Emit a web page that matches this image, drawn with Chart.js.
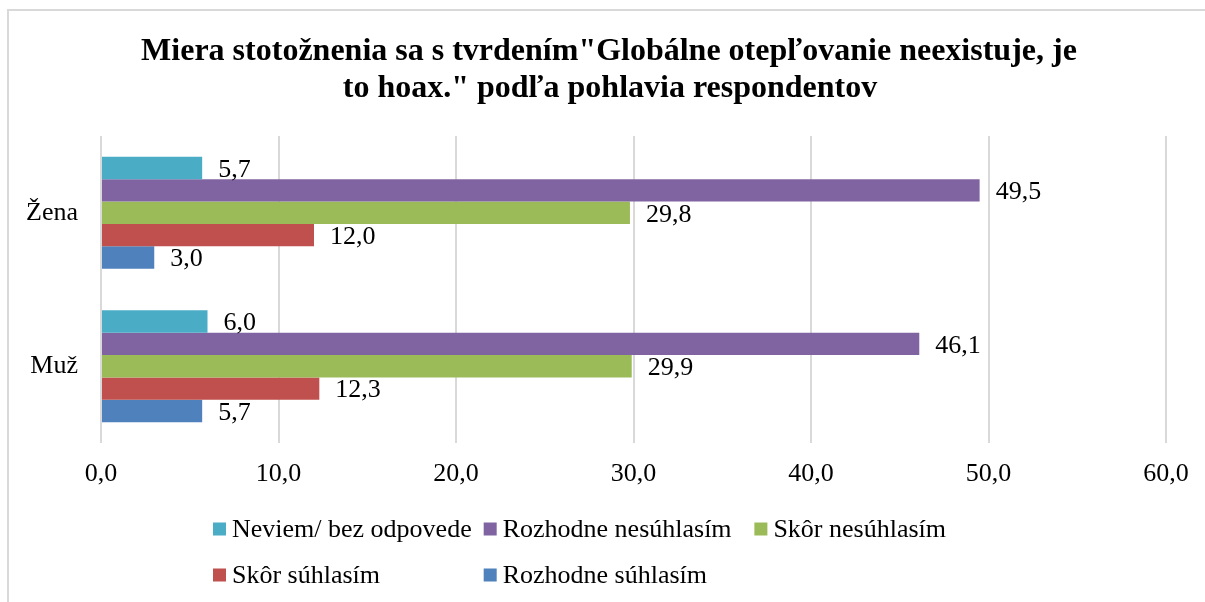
<!DOCTYPE html>
<html><head><meta charset="utf-8">
<script src="https://cdn.jsdelivr.net/npm/chart.js@4.4.1/dist/chart.umd.min.js"></script>
<style>
html,body{margin:0;padding:0;background:#fff;}
#wrap{position:relative;width:1205px;height:602px;overflow:hidden;}
#frame{position:absolute;left:7px;top:9px;width:1300px;height:700px;border-top:2px solid #d9d9d9;border-left:2px solid #d9d9d9;}
canvas{position:absolute;left:0;top:0;}
</style></head><body>
<div id="wrap"><div id="frame"></div><canvas id="c" width="1205" height="602"></canvas></div>
<script>
const titleLines = ['Miera stotožnenia sa s tvrdením"Globálne otepľovanie neexistuje, je', 'to hoax." podľa pohlavia respondentov'];
const categories = ['Žena', 'Muž'];
const seriesNames = ['Neviem/ bez odpovede', 'Rozhodne nesúhlasím', 'Skôr nesúhlasím', 'Skôr súhlasím', 'Rozhodne súhlasím'];
const neviem = [5.7, 6.0];
const rozhodneNesuhlasim = [49.5, 46.1];
const skorNesuhlasim = [29.8, 29.9];
const skorSuhlasim = [12.0, 12.3];
const rozhodneSuhlasim = [3.0, 5.7];
const seriesColors = ['#4bacc6', '#8064a2', '#9bbb59', '#c0504d', '#4f81bd'];
const xMin = 0, xMax = 60, xStep = 10;

const FONT = '"Liberation Serif", "Times New Roman", serif';
const fmt = v => Number(v).toFixed(1).replace('.', ',');

const seriesValues = [neviem, rozhodneNesuhlasim, skorNesuhlasim, skorSuhlasim, rozhodneSuhlasim];

const titlePlugin = {
  id: 'titleP',
  afterDraw(chart) {
    const ctx = chart.ctx;
    ctx.save();
    ctx.font = 'bold 32px ' + FONT;
    ctx.fillStyle = '#000';
    ctx.textAlign = 'center';
    ctx.textBaseline = 'alphabetic';
    ctx.fillText(titleLines[0], 609, 60);
    ctx.fillText(titleLines[1], 610, 97);
    ctx.restore();
  }
};

const valueLabels = {
  id: 'valueLabels',
  afterDatasetsDraw(chart) {
    const ctx = chart.ctx;
    ctx.save();
    ctx.font = '26px ' + FONT;
    ctx.fillStyle = '#000';
    ctx.textAlign = 'left';
    ctx.textBaseline = 'middle';
    chart.data.datasets.forEach((ds, i) => {
      chart.getDatasetMeta(i).data.forEach((bar, j) => {
        ctx.fillText(fmt(ds.data[j]), bar.x + 16, bar.y + 2);
      });
    });
    ctx.restore();
  }
};

const gridLegend = {
  id: 'gridLegend',
  afterDraw(chart) {
    const ctx = chart.ctx;
    ctx.save();
    ctx.font = '26px ' + FONT;
    ctx.textBaseline = 'middle';
    ctx.textAlign = 'left';
    const ds = chart.data.datasets;
    const cols = 3;
    const box = 13, gap = 6;
    let maxW = 0;
    ds.forEach(d => { maxW = Math.max(maxW, ctx.measureText(d.label).width); });
    const colW = box + gap + maxW + 12;
    const startX = 213;
    const rowY = [529, 575];
    ds.forEach((d, i) => {
      const c = i % cols, r = Math.floor(i / cols);
      const x = startX + c * colW;
      const y = rowY[r];
      ctx.fillStyle = d.backgroundColor;
      ctx.fillRect(x, y - box / 2, box, box);
      ctx.fillStyle = '#000';
      ctx.fillText(d.label, x + box + gap, y + 1);
    });
    ctx.restore();
  }
};

new Chart(document.getElementById('c'), {
  type: 'bar',
  data: {
    labels: categories,
    datasets: seriesNames.map((n, i) => ({
      label: n,
      data: seriesValues[i],
      backgroundColor: seriesColors[i],
      borderWidth: 0,
      categoryPercentage: 0.73,
      barPercentage: 1.0
    }))
  },
  options: {
    indexAxis: 'y',
    responsive: false,
    animation: false,
    devicePixelRatio: 1,
    layout: { padding: { top: 136, right: 39, bottom: 99, left: 0 } },
    plugins: { legend: { display: false }, title: { display: false }, tooltip: { enabled: false } },
    scales: {
      x: {
        type: 'linear', min: xMin, max: xMax,
        ticks: { stepSize: xStep, callback: v => fmt(v), color: '#000', font: { family: FONT, size: 26 }, padding: 16, maxRotation: 0 },
        grid: { color: '#d9d9d9', lineWidth: 2, drawTicks: false },
        border: { display: false },
        afterFit(s) { s.height = 60; }
      },
      y: {
        ticks: { color: '#000', font: { family: FONT, size: 26 }, padding: 23 },
        grid: { display: false, drawTicks: false },
        border: { display: false },
        afterFit(s) { s.width = 101; }
      }
    }
  },
  plugins: [titlePlugin, valueLabels, gridLegend]
});
</script>
</body></html>
